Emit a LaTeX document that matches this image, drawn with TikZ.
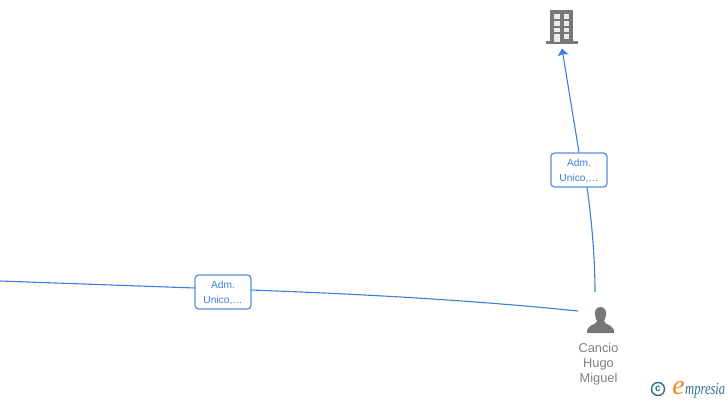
\documentclass[tikz,border=0pt]{standalone}
\usepackage{fontspec}
\setmainfont{Liberation Sans}
\newfontfamily\logofont{Liberation Serif}
\usetikzlibrary{positioning}
\usetikzlibrary{arrows.meta}
\definecolor{linkblue}{HTML}{3A7FDC}
\definecolor{icongray}{HTML}{777777}
\definecolor{namegray}{HTML}{808080}
\definecolor{logoteal}{HTML}{2F6F8F}
\definecolor{logoorange}{HTML}{EE8A1D}
\newcommand{\rolelabel}{\rule{0pt}{9.4pt}Adm.\\Unico,\dots}
\tikzset{rolebox/.style={%
        rectangle,
        rounded corners=3.5pt,
        minimum width=56pt,
        minimum height=34pt,
        inner sep=0pt,
        align=center,
        font=\fontsize{10.2}{15}\selectfont,
        text=linkblue,
        draw=linkblue!85,
        line width=1.3pt,
        fill=white
    }}
\tikzset{link/.style={linkblue,line width=1.1pt}}
\tikzset{personname/.style={align=center,font=\fontsize{12.8}{15}\selectfont,text=namegray,inner sep=0pt}}
\begin{document}
\begin{tikzpicture}[x=1pt,y=-1pt]
    \useasboundingbox (0,0) rectangle (728,400);
    \node [minimum width=32pt,minimum height=36pt,inner sep=0pt] (company) at (561.5,27) {};
    \node [minimum width=28pt,minimum height=28pt,inner sep=0pt] (person) at (600.5,320) {};
    \node [rolebox] (roleA) at (579,170) {\rolelabel};
    \node [rolebox] (roleB) at (223,292) {\rolelabel};
    \node [personname] (name) at (598.5,364) {Cancio\\Hugo\\Miguel};
    \coordinate (leftend) at (0,281);
    \coordinate (personA) at (595,292);
    \coordinate (personB) at (578,311);
    \coordinate (tip) at (562,48.5);
    \coordinate (roleAout) at (587,187);
    \coordinate (roleBin) at (195,288);
    \coordinate (roleBout) at (251,290);
    % company icon
    \fill [icongray] (550,10) rectangle (573,42);
    \fill [icongray] (545.5,41) rectangle (577.5,44);
    \foreach \y in {14,21,27.5,34} {
        \fill [white!85!icongray] (554,\y) rectangle (559.5,\y+4.5);
        \fill [white!85!icongray] (563.5,\y) rectangle (569,\y+4.5);
    }
    \fill [white!85!icongray] (554,34) rectangle (559.5,41.5);
    % person icon
    \fill [icongray] (600.5,307) .. controls (596,307) and (594.5,311) .. (595,315)
        .. controls (595.3,318) and (596.5,320) .. (597,321)
        .. controls (597,323) and (594,324) .. (591,325.5)
        .. controls (588,327) and (587,329) .. (587,333)
        -- (614,333)
        .. controls (614,329) and (613,327) .. (610,325.5)
        .. controls (607,324) and (604,323) .. (604,321)
        .. controls (604.5,320) and (605.7,318) .. (606,315)
        .. controls (606.5,311) and (605,307) .. (600.5,307) -- cycle;
    % links
    \draw [link] (personA) .. controls (595,255) and (591,215) .. (roleAout);
    \draw [link,-{Stealth[length=7pt,width=11pt,inset=1.5pt]}] (roleA.north) -- (tip);
    \draw [link] (leftend) -- (roleBin);
    \draw [link] (roleBout) .. controls (360,294) and (470,300) .. (personB);
    % logo
    \node [circle,draw=logoteal,line width=1.4pt,minimum size=13pt,inner sep=0pt,text=logoteal,font=\bfseries\fontsize{10}{10}\selectfont] (copyright) at (658,389) {c};
    \node [inner sep=0pt,anchor=base,text=logoorange,font=\logofont\itshape\fontsize{28}{28}\selectfont] (logoe) at (678.5,394) {e};
    \node [inner sep=0pt,anchor=base west,text=logoteal,font=\logofont\itshape\fontsize{17}{17}\selectfont] (logotext) at (685,394) {\scalebox{0.74}[1]{mpresia}};
\end{tikzpicture}
\end{document}
